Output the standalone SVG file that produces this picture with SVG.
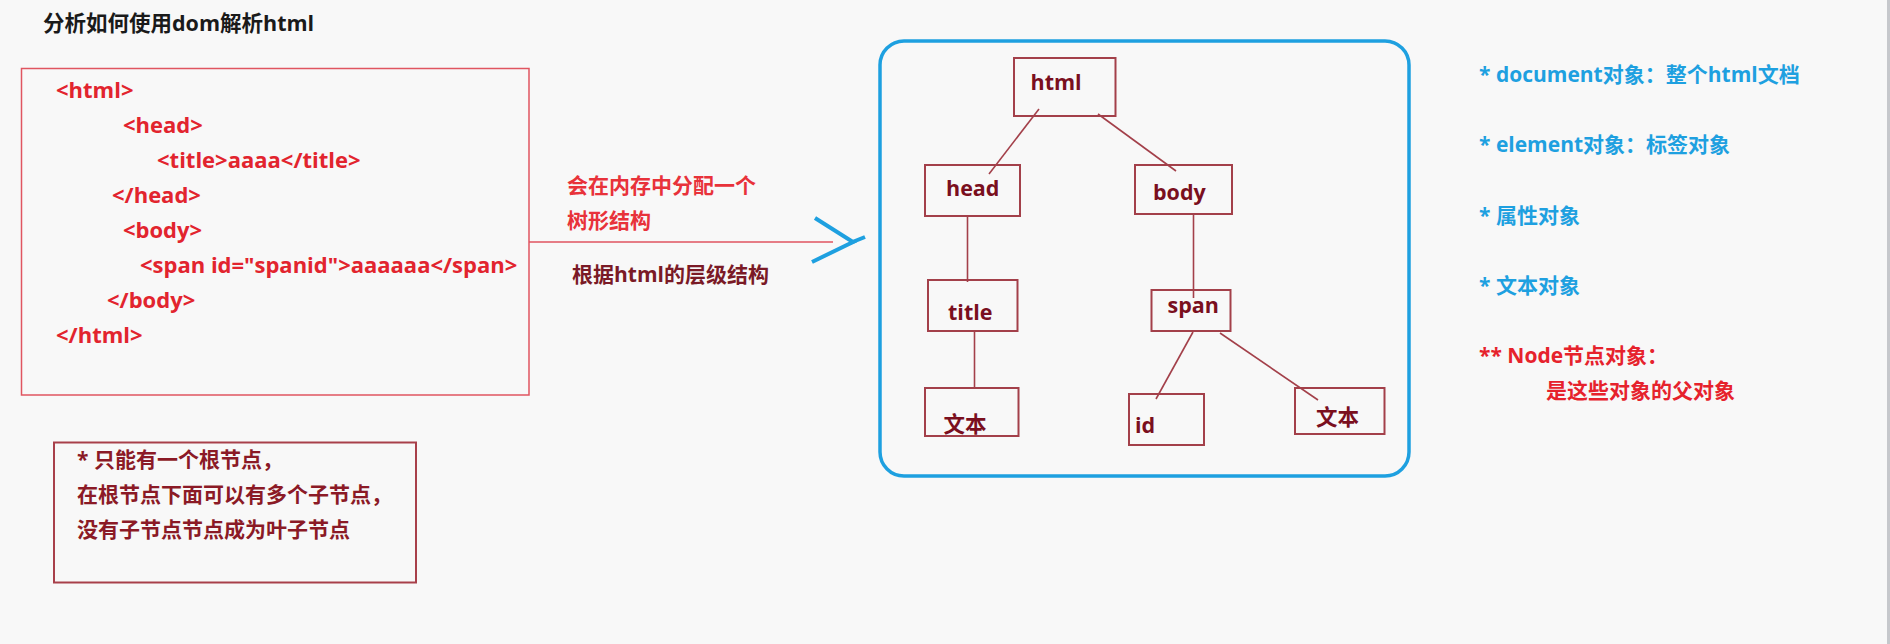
<svg xmlns="http://www.w3.org/2000/svg" width="1890" height="644" viewBox="0 0 1890 644">
<style>
text{font-family:"Open Sans","Liberation Sans","Noto Sans CJK SC",sans-serif;font-weight:bold;}
.title{font-size:21.5px;fill:#1a1a1a;}
.code{font-size:22px;fill:#e2242e;}
.note{font-size:21px;fill:#8b1a26;}
.red{font-size:21px;fill:#e8323a;}
.maroon{font-size:21px;fill:#7a1a26;}
.blue{font-size:21px;fill:#1ea0e0;}
.nodered{font-size:21px;fill:#e6222c;}
.nodebox{fill:none;stroke:#a3404a;stroke-width:2;}
.nodetext{font-size:21.5px;fill:#7a0f1e;}
.edge{stroke:#a3404a;stroke-width:1.6;fill:none;}
</style>
<rect x="0" y="0" width="1890" height="644" fill="#f8f8f8"/>
<rect x="1887" y="0" width="3" height="644" fill="#c6c8cc"/>

<text class="title" x="43" y="31">分析如何使用dom解析html</text>

<g id="code-box">
<rect x="21.5" y="68.5" width="507.5" height="326.5" fill="none" stroke="#e05560" stroke-width="1.5"/>
<text class="code" x="56" y="98">&lt;html&gt;</text>
<text class="code" x="123" y="133">&lt;head&gt;</text>
<text class="code" x="157" y="168">&lt;title&gt;aaaa&lt;/title&gt;</text>
<text class="code" x="112" y="203">&lt;/head&gt;</text>
<text class="code" x="123" y="238">&lt;body&gt;</text>
<text class="code" x="140" y="273">&lt;span id="spanid"&gt;aaaaaa&lt;/span&gt;</text>
<text class="code" x="107" y="308">&lt;/body&gt;</text>
<text class="code" x="56" y="343">&lt;/html&gt;</text>
</g>

<g id="note-box">
<rect x="54" y="442.5" width="362" height="140" fill="none" stroke="#a8404a" stroke-width="2"/>
<text class="note" x="77" y="467">* 只能有一个根节点，</text>
<text class="note" x="77" y="502">在根节点下面可以有多个子节点，</text>
<text class="note" x="77" y="537">没有子节点节点成为叶子节点</text>
</g>

<g id="arrow">
<line x1="529" y1="242" x2="833" y2="242" stroke="#e05560" stroke-width="1.5"/>
<polyline points="815,218 853,242 812,262" fill="none" stroke="#1ea0e0" stroke-width="4"/>
<line x1="850" y1="243" x2="865" y2="237" stroke="#1ea0e0" stroke-width="4"/>
<text class="red" x="567" y="193">会在内存中分配一个</text>
<text class="red" x="567" y="228">树形结构</text>
<text class="maroon" x="572" y="282">根据html的层级结构</text>
</g>

<g id="tree-container">
<rect x="880" y="41" width="529" height="435" rx="24" ry="24" fill="none" stroke="#1ea0e0" stroke-width="3.5"/>
</g>

<g id="connectors">
<line class="edge" x1="1039" y1="109" x2="989" y2="174"/>
<line class="edge" x1="1098" y1="114" x2="1176" y2="171"/>
<line class="edge" x1="967.5" y1="216" x2="967.5" y2="282"/>
<line class="edge" x1="1193.5" y1="214" x2="1193.5" y2="298"/>
<line class="edge" x1="974.5" y1="331" x2="974.5" y2="388"/>
<line class="edge" x1="1193" y1="332" x2="1156" y2="399"/>
<line class="edge" x1="1220" y1="333" x2="1318" y2="400"/>
</g>

<g id="node-html">
<rect class="nodebox" x="1014" y="58" width="101.5" height="58"/>
<text class="nodetext" x="1030.5" y="90">html</text>
</g>
<g id="node-head">
<rect class="nodebox" x="925" y="165" width="95" height="51"/>
<text class="nodetext" x="946" y="196">head</text>
</g>
<g id="node-body">
<rect class="nodebox" x="1135" y="165" width="97" height="49"/>
<text class="nodetext" x="1153" y="200">body</text>
</g>
<g id="node-title">
<rect class="nodebox" x="928" y="280" width="89.5" height="51"/>
<text class="nodetext" x="948" y="320">title</text>
</g>
<g id="node-span">
<rect class="nodebox" x="1151.5" y="290" width="79" height="41"/>
<text class="nodetext" x="1167.5" y="313">span</text>
</g>
<g id="node-text1">
<rect class="nodebox" x="925" y="388" width="93.5" height="48"/>
<text class="nodetext" x="943.5" y="432">文本</text>
</g>
<g id="node-id">
<rect class="nodebox" x="1129" y="394" width="75" height="51"/>
<text class="nodetext" x="1135" y="433">id</text>
</g>
<g id="node-text2">
<rect class="nodebox" x="1295" y="388" width="89.5" height="46"/>
<text class="nodetext" x="1316" y="425">文本</text>
</g>

<g id="legend">
<text class="blue" x="1479" y="82">* document对象：整个html文档</text>
<text class="blue" x="1479" y="152">* element对象：标签对象</text>
<text class="blue" x="1479" y="223">* 属性对象</text>
<text class="blue" x="1479" y="293">* 文本对象</text>
<text class="nodered" x="1479" y="363">** Node节点对象：</text>
<text class="nodered" x="1546" y="398">是这些对象的父对象</text>
</g>
</svg>
